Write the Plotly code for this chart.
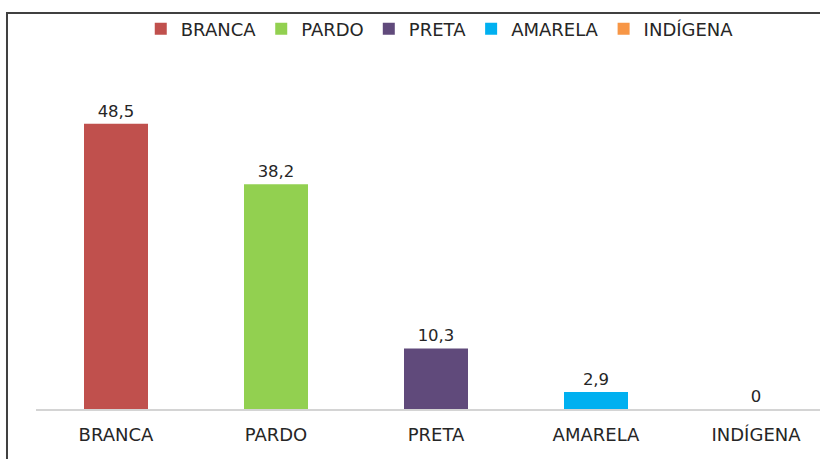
import plotly.graph_objects as go

categories = ["BRANCA", "PARDO", "PRETA", "AMARELA", "INDÍGENA"]
values = [48.5, 38.2, 10.3, 2.9, 0]
colors = ["#C0504D", "#92D050", "#604A7B", "#00B0F0", "#F79646"]

fig = go.Figure()
for cat, val, col in zip(categories, values, colors):
    fig.add_trace(go.Bar(
        x=[cat], y=[val], name=cat,
        marker=dict(color=col, line=dict(width=0)),
        width=0.4,
        text=[f"{val:g}".replace(".", ",")],
        textposition="outside",
        textfont=dict(family="DejaVu Sans", size=16.5, color="#262626"),
        cliponaxis=False,
        hoverinfo="x+y",
    ))

fig.update_layout(
    width=820, height=459,
    margin=dict(l=36, r=0, t=56, b=50),
    paper_bgcolor="white", plot_bgcolor="white",
    barmode="overlay",
    showlegend=True,
    legend=dict(orientation="h", x=0.515, xanchor="center", y=1.076, yanchor="middle",
                font=dict(family="DejaVu Sans", size=18, color="#262626"),
                itemwidth=30, traceorder="normal", bgcolor="rgba(0,0,0,0)"),
    xaxis=dict(range=[-0.5, 4.4], showline=True, linecolor="#d4d4d4", linewidth=1.5,
               showgrid=False, ticks="", ticklabelstandoff=9,
               tickfont=dict(family="DejaVu Sans", size=18, color="#262626"),
               fixedrange=True),
    yaxis=dict(range=[0, 60], visible=False, showgrid=False, fixedrange=True),
    shapes=[dict(type="rect", xref="paper", yref="paper", x0=-0.037, x1=1.05, y0=-0.2, y1=1.1218,
                 line=dict(color="#404040", width=2), fillcolor="rgba(0,0,0,0)", layer="above")],
)

fig.write_html("out.html", config={"displayModeBar": False},
               post_script="document.body.style.margin='0';document.body.style.overflow='hidden';")
